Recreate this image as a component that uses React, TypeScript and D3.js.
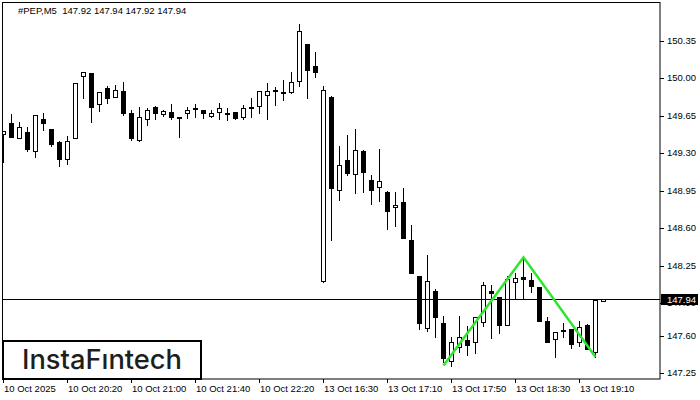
import React from "react";
import * as d3 from "d3";

const symbolTitle = "#PEP,M5  147.92 147.94 147.92 147.94";

const opens = [
  149.48, 149.58, 149.44, 149.50, 149.32, 149.62, 149.53, 149.41, 149.25, 149.44,
  150.02, 150.05, 149.76, 149.91, 149.83, 149.88, 149.68, 149.43, 149.62, 149.73,
  149.67, 149.69, 149.64, 149.68, 149.72, 149.71, 149.65, 149.69, 149.68, 149.69,
  149.64, 149.73, 149.74, 149.85, 149.89, 149.87, 149.87, 149.98, 150.32, 150.12,
  148.11, 149.83, 148.96, 149.24, 149.11, 149.32, 149.05, 148.99, 148.94, 148.80,
  148.85, 148.49, 148.16, 147.67, 148.02, 147.72, 147.36, 147.49, 147.56, 147.54,
  147.73, 148.02, 147.96, 147.70, 148.10, 148.15, 148.12, 148.05, 147.74, 147.57,
  147.65, 147.66, 147.54, 147.70, 147.45, 147.92,
];
const highs = [
  149.51, 149.67, 149.59, 149.55, 149.66, 149.68, 149.53, 149.42, 149.46, 149.96,
  150.06, 150.05, 149.87, 149.93, 149.94, 149.97, 149.71, 149.73, 149.72, 149.74,
  149.71, 149.76, 149.64, 149.73, 149.76, 149.71, 149.71, 149.77, 149.72, 149.69,
  149.75, 149.82, 149.88, 149.96, 149.92, 149.99, 150.06, 150.51, 150.32, 150.25,
  149.93, 149.84, 149.37, 149.47, 149.53, 149.33, 149.10, 149.34, 148.95, 148.94,
  148.98, 148.63, 148.16, 148.35, 148.03, 147.78, 147.59, 147.78, 147.69, 147.77,
  148.10, 148.07, 147.96, 148.16, 148.18, 148.31, 148.18, 148.05, 147.77, 147.63,
  147.72, 147.66, 147.74, 147.71, 147.93, 147.94,
];
const lows = [
  149.22, 149.45, 149.44, 149.32, 149.27, 149.52, 149.37, 149.18, 149.20, 149.44,
  149.82, 149.59, 149.70, 149.77, 149.83, 149.66, 149.43, 149.42, 149.57, 149.62,
  149.65, 149.62, 149.45, 149.63, 149.64, 149.63, 149.64, 149.62, 149.61, 149.62,
  149.62, 149.64, 149.68, 149.62, 149.75, 149.80, 149.86, 149.93, 149.82, 150.01,
  148.10, 148.49, 148.87, 149.10, 148.93, 148.94, 148.83, 148.86, 148.59, 148.62,
  148.51, 148.18, 147.66, 147.64, 147.59, 147.35, 147.32, 147.45, 147.42, 147.44,
  147.69, 147.58, 147.62, 147.70, 147.94, 147.94, 148.01, 147.74, 147.54, 147.40,
  147.59, 147.48, 147.50, 147.47, 147.40, 147.92,
];
const closes = [
  149.51, 149.45, 149.55, 149.34, 149.66, 149.58, 149.39, 149.25, 149.42, 149.96,
  150.06, 149.73, 149.87, 149.82, 149.89, 149.68, 149.44, 149.64, 149.71, 149.68,
  149.70, 149.64, 149.63, 149.71, 149.72, 149.68, 149.68, 149.72, 149.68, 149.63,
  149.72, 149.73, 149.88, 149.88, 149.89, 149.87, 149.97, 150.44, 150.08, 150.06,
  149.89, 148.98, 149.19, 149.12, 149.33, 149.13, 148.96, 149.04, 148.76, 148.82,
  148.51, 148.18, 147.72, 148.11, 147.77, 147.39, 147.54, 147.59, 147.51, 147.77,
  148.07, 148.00, 147.70, 148.13, 148.14, 148.13, 148.06, 147.74, 147.54, 147.63,
  147.65, 147.52, 147.68, 147.47, 147.93, 147.94,
];

const yTicks = [150.35, 150.0, 149.65, 149.3, 148.95, 148.6, 148.25, 147.9, 147.6, 147.25];
const xTickIndex = [0, 8, 16, 24, 32, 40, 48, 56, 64, 72];
const xTickLabels = [
  "10 Oct 2025", "10 Oct 20:20", "10 Oct 21:00", "10 Oct 21:40", "10 Oct 22:20",
  "13 Oct 16:30", "13 Oct 17:10", "13 Oct 17:50", "13 Oct 18:30", "13 Oct 19:10",
];
const currentPrice = 147.94;
const patternIndex = [55, 65, 74];
const patternPrice = [147.32, 148.33, 147.4];

const W = 700;
const H = 400;
const plotL = 2;
const plotT = 2;
const plotR = 660;
const plotB = 379;
const FONT = "'Liberation Sans', Arial, sans-serif";

export default function App() {
  const x = d3.scaleLinear().domain([0, 75]).range([3.5, 603.5]);
  const y = d3.scaleLinear().domain([147.25, 150.35]).range([373, 41]);
  const py = (p: number) => Math.round(y(p));

  const line = d3
    .line<number>()
    .x((_, i) => x(patternIndex[i]))
    .y((d) => y(d));

  return (
    <svg
      width={W}
      height={H}
      style={{ position: "absolute", left: 0, top: 0, background: "#fff" }}
      fontFamily={FONT}
    >
      <rect x={0} y={0} width={W} height={H} fill="#fff" />
      <defs>
        <clipPath id="plotclip">
          <rect x={plotL} y={plotT} width={plotR - plotL} height={plotB - plotT} />
        </clipPath>
      </defs>
      <text x={18} y={14} fontSize={9.5} fill="#000" style={{ whiteSpace: "pre" }}>
        {symbolTitle}
      </text>
      <g clipPath="url(#plotclip)">
        {opens.map((o, i) => {
          const c = closes[i];
          const cx = x(i);
          const yh = py(highs[i]);
          const yl = py(lows[i]);
          const yo = py(o);
          const yc = py(c);
          const top = Math.min(yo, yc);
          const bot = Math.max(yo, yc);
          const bull = c >= o;
          return (
            <g key={i}>
              <line x1={cx} x2={cx} y1={yh} y2={yl + 1} stroke="#000" strokeWidth={1} />
              {bull ? (
                <rect
                  x={cx - 2}
                  y={top + 0.5}
                  width={4}
                  height={Math.max(bot - top, 1)}
                  fill="#fff"
                  stroke="#000"
                  strokeWidth={1}
                />
              ) : (
                <rect
                  x={cx - 2.5}
                  y={top}
                  width={5}
                  height={Math.max(bot - top + 1, 1)}
                  fill="#000"
                />
              )}
            </g>
          );
        })}
        <line
          x1={plotL}
          x2={plotR}
          y1={py(currentPrice) + 0.5}
          y2={py(currentPrice) + 0.5}
          stroke="#000"
          strokeWidth={1}
        />
        <path d={line(patternPrice) || ""} fill="none" stroke="#2ee62e" strokeWidth={2.5} strokeLinejoin="miter" />
      </g>
      <rect
        x={plotL + 0.5}
        y={plotT + 0.5}
        width={plotR - plotL - 0.5}
        height={plotB - plotT - 0.5}
        fill="none"
        stroke="#000"
        strokeWidth={1}
      />
      {yTicks.map((t) => (
        <g key={t}>
          <line x1={plotR} x2={plotR + 4} y1={py(t) + 0.5} y2={py(t) + 0.5} stroke="#000" />
          <text x={667} y={py(t)} dy="0.35em" fontSize={9.5} fill="#000">
            {t.toFixed(2)}
          </text>
        </g>
      ))}
      <rect x={661} y={294} width={37} height={11} fill="#000" />
      <text x={667} y={py(currentPrice)} dy="0.38em" fontSize={9.5} fill="#fff">
        {currentPrice.toFixed(2)}
      </text>
      {xTickIndex.map((ti, k) => (
        <g key={ti}>
          <line x1={x(ti)} x2={x(ti)} y1={plotB} y2={plotB + 4} stroke="#000" />
          <text x={x(ti) + 0.5} y={392} fontSize={9.5} fill="#000">
            {xTickLabels[k]}
          </text>
        </g>
      ))}
      <rect x={3} y={341} width={198} height={38} fill="#fff" stroke="#000" strokeWidth={2} />
      <text
        x={22}
        y={369}
        fontSize={27}
        fontFamily="Inter, 'Open Sans', sans-serif"
        fontWeight={500}
        fill="#1e1e1e"
        textLength={160}
        lengthAdjust="spacingAndGlyphs"
      >
        InstaFıntech
      </text>
    </svg>
  );
}
